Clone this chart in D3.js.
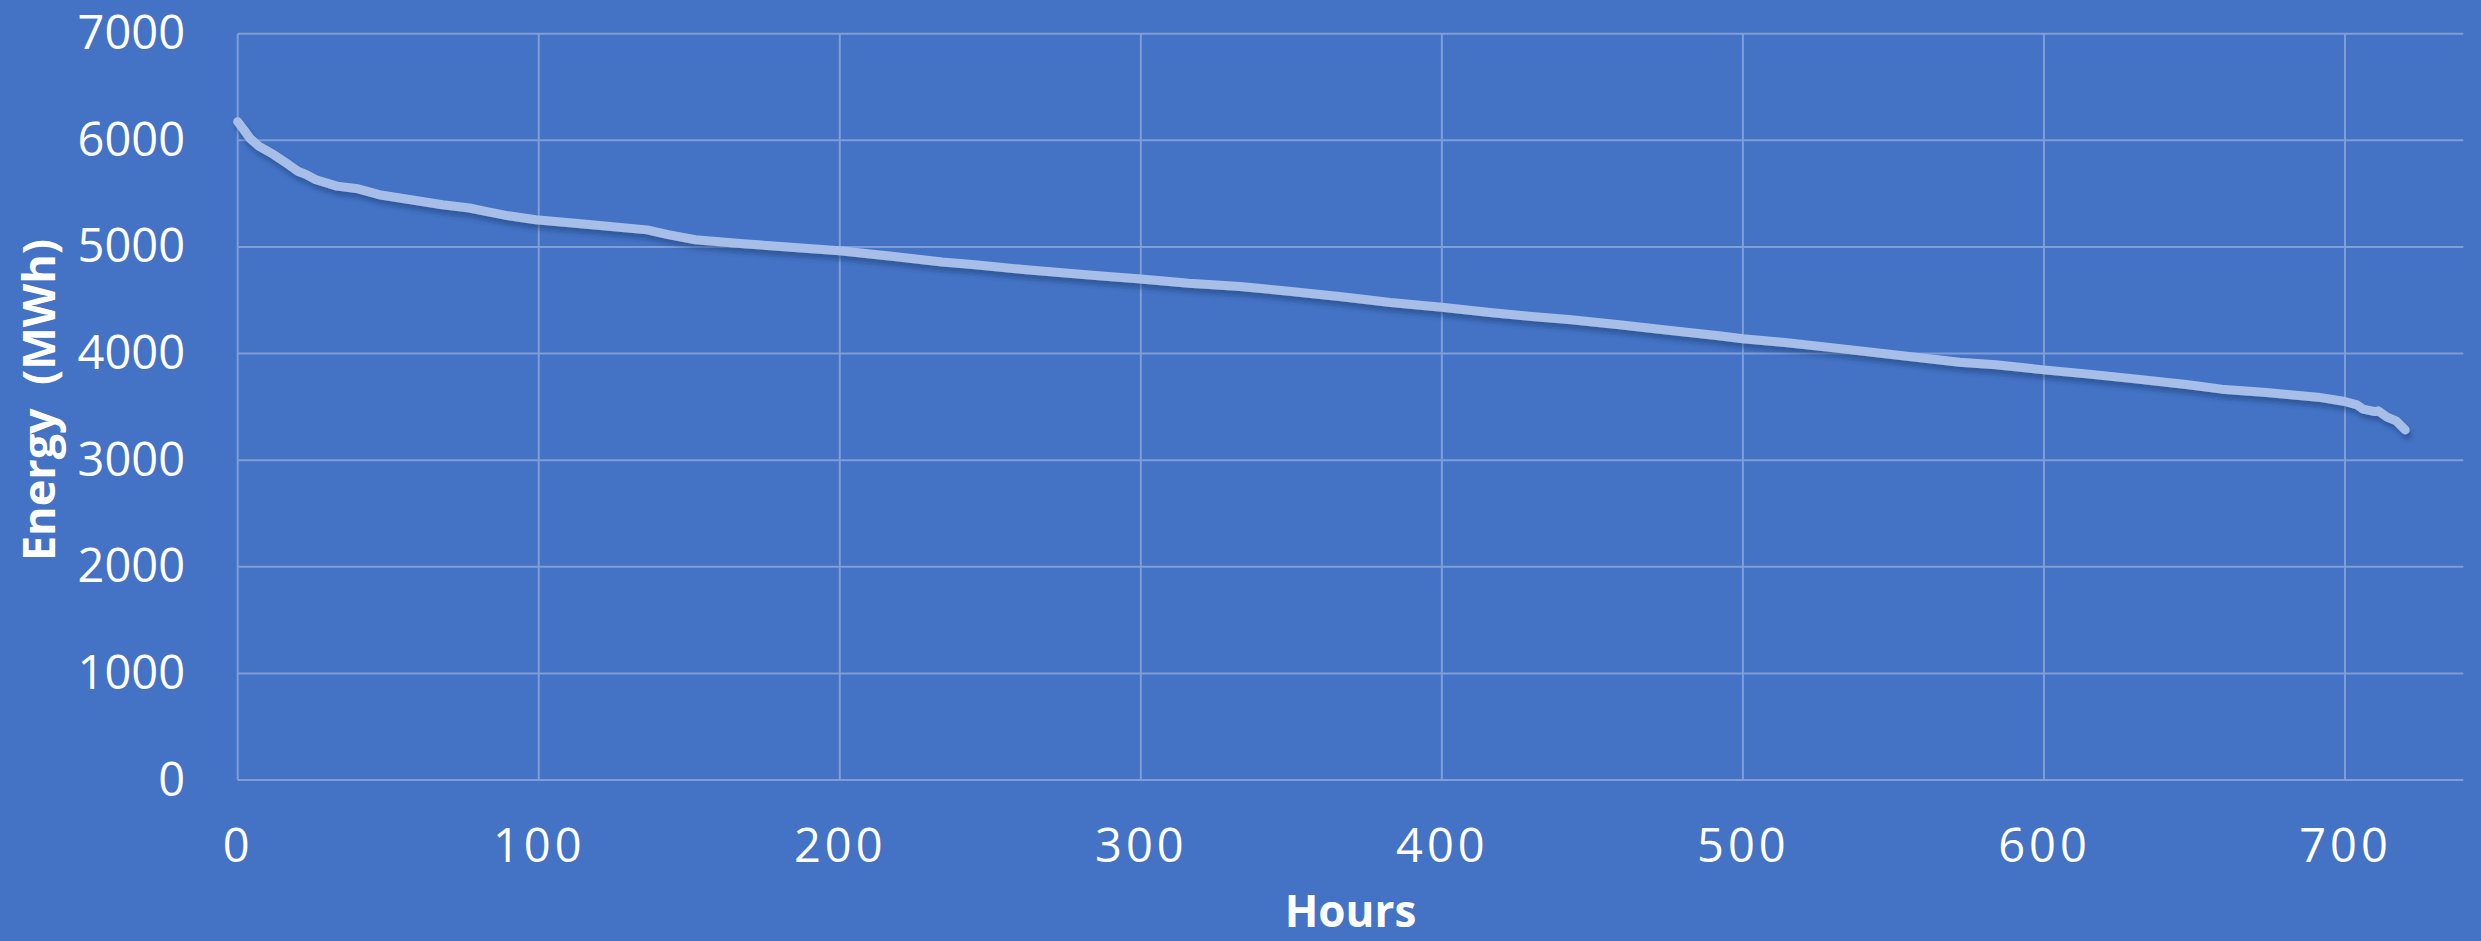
<!DOCTYPE html>
<html>
<head>
<meta charset="utf-8">
<script src="https://cdn.jsdelivr.net/npm/d3@7"></script>
<style>
  html, body { margin: 0; padding: 0; background: #4472C4; }
  svg { display: block; }
  text { font-family: "Open Sans", "Noto Sans", sans-serif; fill: #ffffff; }
</style>
</head>
<body>
<svg id="chart" width="2481" height="941"></svg>
<script>
// Load duration curve: hourly energy sorted from highest to lowest
const hours = [0, 2, 4, 7, 12, 17, 20, 23, 26, 33, 40, 47, 57, 68, 77, 82, 90, 99, 114, 136,
  143, 152, 168, 185, 200, 218, 234, 245, 262, 286, 299, 316, 333, 350, 366, 383, 400, 416, 429,
  443, 459, 476, 492, 500, 514, 531, 548, 572, 584, 600, 615, 631, 648, 659, 674, 691, 700,
  704, 706, 710, 711, 714, 717, 720];
const energy = [6175, 6100, 6020, 5945, 5865, 5770, 5710, 5675, 5630, 5570, 5545, 5490, 5445, 5395, 5365, 5335, 5292, 5255, 5217, 5160,
  5115, 5067, 5030, 4995, 4964, 4911, 4858, 4833, 4786, 4730, 4702, 4660, 4629, 4582, 4535, 4479, 4435, 4385, 4350,
  4316, 4270, 4216, 4166, 4138, 4103, 4051, 3995, 3918, 3894, 3847, 3807, 3760, 3707, 3666, 3634, 3591, 3550,
  3519, 3479, 3456, 3463, 3403, 3369, 3284];

const xTicks = [0, 100, 200, 300, 400, 500, 600, 700];
const yTicks = [0, 1000, 2000, 3000, 4000, 5000, 6000, 7000];
const xTitle = "Hours";
const yTitle = "Energy\u00A0\u00A0(MWh)";
const xMax = 739.3;
const yMax = 7000;

const svg = d3.select("#chart");
const plotLeft = 237.7, plotRight = 2463.3, plotTop = 33.7, plotBottom = 780;

const x = d3.scaleLinear().domain([0, xMax]).range([plotLeft, plotRight]);
const y = d3.scaleLinear().domain([0, yMax]).range([plotBottom, plotTop]);

svg.append("rect").attr("width", 2481).attr("height", 941).attr("fill", "#4472C4");

// shadow under the series line
const defs = svg.append("defs");
const f = defs.append("filter").attr("id", "lineShadow")
  .attr("x", "-5%").attr("y", "-20%").attr("width", "110%").attr("height", "140%");
f.append("feDropShadow").attr("dx", 2).attr("dy", 5).attr("stdDeviation", 2)
  .attr("flood-color", "#1d3a70").attr("flood-opacity", 0.45);

// gridlines
const grid = svg.append("g").attr("stroke", "#7f9ed7").attr("stroke-width", 2);
grid.selectAll("line.h").data(yTicks).join("line").attr("class", "h")
  .attr("x1", plotLeft).attr("x2", plotRight)
  .attr("y1", d => y(d)).attr("y2", d => y(d));
grid.selectAll("line.v").data(xTicks).join("line").attr("class", "v")
  .attr("x1", d => x(d)).attr("x2", d => x(d))
  .attr("y1", plotTop).attr("y2", plotBottom);

// axes (labels only)
const yAxis = svg.append("g").attr("transform", `translate(${plotLeft},0)`)
  .call(d3.axisLeft(y).tickValues(yTicks).tickSize(0).tickPadding(52.7).tickFormat(d3.format("d")));
yAxis.select(".domain").remove();
yAxis.selectAll("text").style("font-size", "47px").style("fill", "#ffffff")
  .style("font-family", "'Open Sans', sans-serif");

const xAxis = svg.append("g").attr("transform", `translate(0,${plotBottom})`)
  .call(d3.axisBottom(x).tickValues(xTicks).tickSize(0).tickPadding(48.6).tickFormat(d3.format("d")));
xAxis.select(".domain").remove();
xAxis.selectAll("text").style("font-size", "47px").style("fill", "#ffffff")
  .style("letter-spacing", "4px").style("font-family", "'Open Sans', sans-serif");

// series line
const pts = hours.map((h, i) => [h, energy[i]]);
const line = d3.line().x(d => x(d[0])).y(d => y(d[1]));
svg.append("path").datum(pts)
  .attr("d", line)
  .attr("fill", "none")
  .attr("stroke", "#a6bee8")
  .attr("stroke-width", 9)
  .attr("stroke-linecap", "round")
  .attr("stroke-linejoin", "round")
  .attr("filter", "url(#lineShadow)");

// axis titles
svg.append("text")
  .attr("x", (plotLeft + plotRight) / 2).attr("y", 927)
  .attr("text-anchor", "middle")
  .style("font-size", "44px").style("font-weight", "bold")
  .text(xTitle);

svg.append("text")
  .attr("transform", `translate(55,400) rotate(-90)`)
  .attr("text-anchor", "middle")
  .style("font-size", "45px").style("font-weight", "bold")
  .text(yTitle);
</script>
</body>
</html>
